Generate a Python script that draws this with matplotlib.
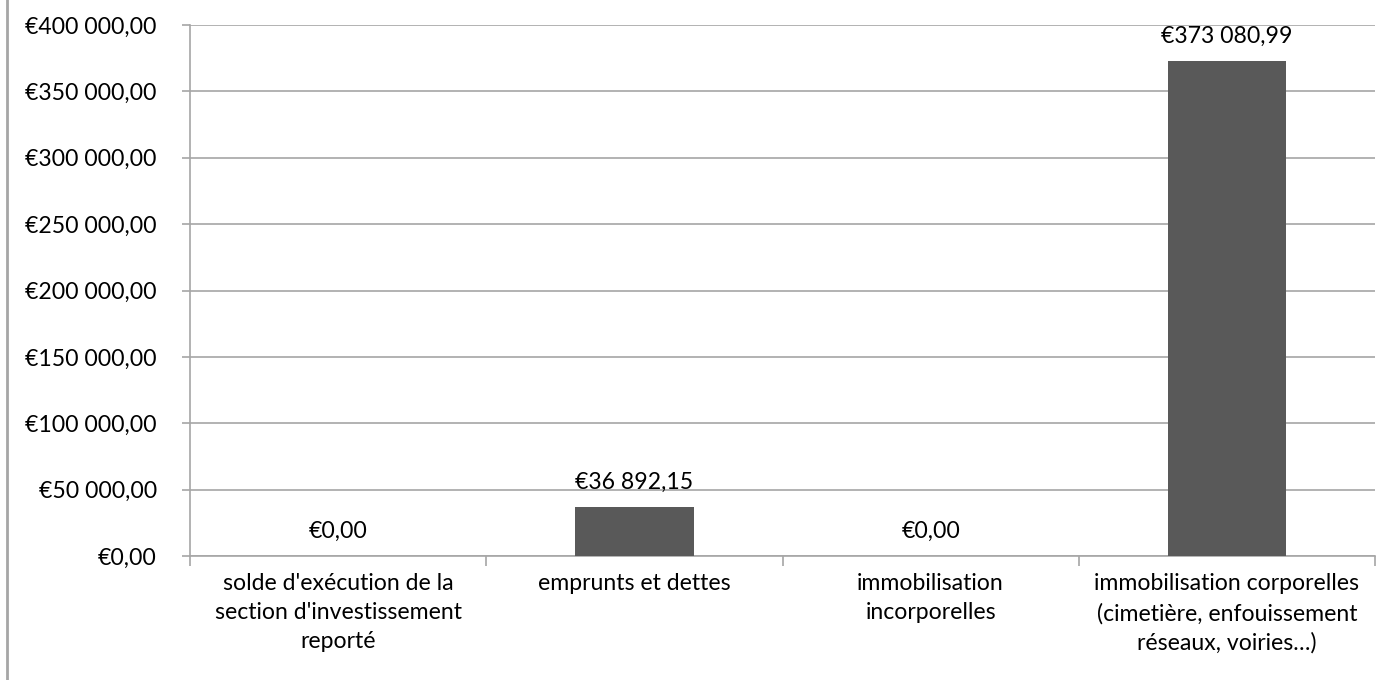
import matplotlib.pyplot as plt
from matplotlib.lines import Line2D
from matplotlib.ticker import FuncFormatter, FixedLocator

plt.rcParams['font.family'] = ['Lato', 'DejaVu Sans']

# Données
categories = [
    "solde d'exécution de la\nsection d'investissement\nreporté",
    "emprunts et dettes",
    "immobilisation\nincorporelles",
    "immobilisation corporelles\n(cimetière, enfouissement\nréseaux, voiries…)",
]
valeurs = [0.00, 36892.15, 0.00, 373080.99]


def euro(v, pos=None):
    entier = int(round(v * 100)) // 100
    cents = int(round(v * 100)) % 100
    s = f"{entier:,}".replace(",", " ")
    return f"€{s},{cents:02d}"


fs = 16.6
fig = plt.figure(figsize=(13.98, 6.80), dpi=100)
ax = fig.add_axes([190 / 1398, 1 - 556 / 680, 1185 / 1398, 531 / 680])

x = range(len(categories))
barres = ax.bar(x, valeurs, width=0.4, color="#595959", zorder=3)

for xi, v in zip(x, valeurs):
    ax.annotate(euro(v), (xi, v), xytext=(0, 10), textcoords="offset points",
                ha="center", va="bottom", fontsize=fs, color="#000000")

ax.set_xlim(-0.5, len(categories) - 0.5)
ax.set_ylim(0, 400000)
ax.set_yticks(range(0, 400001, 50000))
ax.yaxis.set_major_formatter(FuncFormatter(euro))
ax.grid(axis="y", color="#a6a6a6", linewidth=1.2, zorder=0)

ax.set_xticks(list(x))
ax.set_xticklabels(categories, fontsize=fs, linespacing=1.47)
ax.xaxis.set_minor_locator(FixedLocator([i - 0.5 for i in range(len(categories) + 1)]))
ax.tick_params(axis="x", which="major", length=0, pad=12.5)
ax.tick_params(axis="x", which="minor", length=7, color="#a6a6a6", width=1.2)
ax.tick_params(axis="y", length=6, color="#a6a6a6", width=1.2, labelsize=fs, pad=18)

for side in ["top", "right"]:
    ax.spines[side].set_visible(False)
for side in ["left", "bottom"]:
    ax.spines[side].set_color("#a6a6a6")
    ax.spines[side].set_linewidth(1.2)

# cadre du graphique à gauche
fig.add_artist(Line2D([7 / 1398, 7 / 1398], [0, 1], color="#a6a6a6", linewidth=2))

fig.savefig("out.png", dpi=100)
